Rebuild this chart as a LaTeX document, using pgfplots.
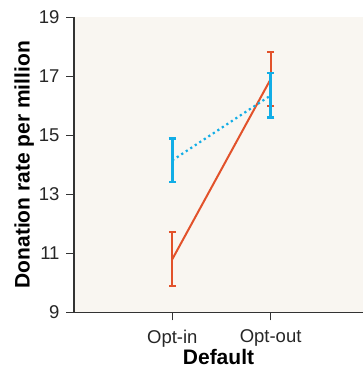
\documentclass[border=0pt]{standalone}
\usepackage{pgfplots}
\pgfplotsset{compat=1.18}
\usepackage{fontspec}
\setmainfont{Liberation Sans}
\definecolor{orng}{HTML}{E2522B}
\definecolor{blu}{HTML}{12ADE6}
\definecolor{bg}{HTML}{F9F6F1}
\definecolor{axc}{HTML}{333333}
\begin{document}
\begin{tikzpicture}
\begin{axis}[
  scale only axis,
  width=289pt, height=295pt,
  xmin=0, xmax=2.94,
  ymin=9, ymax=19,
  axis lines*=left,
  axis line style={axc, line width=1.1pt},
  axis background/.style={fill=bg},
  xtick={1,2}, xticklabels={Opt-in,Opt-out},
  ytick={9,11,13,15,17,19},
  tick align=outside,
  major tick length=8pt,
  tick style={axc, line width=1pt},
  tick label style={font=\fontsize{18.5}{21}\selectfont, text=black!85},
  xticklabel style={yshift=-6pt},
  yticklabel style={xshift=-3pt},
  /pgf/number format/assume math mode=true,
  xlabel={\textbf{Default}},
  ylabel={\textbf{Donation rate per million}},
  label style={font=\fontsize{21}{24}\selectfont},
  xlabel style={yshift=5pt},
  ylabel style={yshift=-2pt},
  clip=false,
]
\coordinate (sw) at (rel axis cs:0,0);
\coordinate (ne) at (rel axis cs:1,1);
\addplot[orng, line width=2pt, mark=none,
  error bars/.cd, y dir=both, y explicit, error mark=|,
  error bar style={line width=2pt, orng},
  error mark options={line width=2pt, mark size=3.5pt, orng}]
  coordinates {
  (1,10.80) +- (0,0.91)
  (2,16.90) +- (0,0.91)
  };
\addplot[blu, line width=2.2pt, dash pattern=on 2.2pt off 3.2pt, mark=none,
  error bars/.cd, y dir=both, y explicit, error mark=|,
  error bar style={line width=2.6pt, blu, solid},
  error mark options={line width=2.2pt, mark size=3.8pt, blu, solid}]
  coordinates {
  (1,14.15) +- (0,0.74)
  (2,16.35) +- (0,0.75)
  };
\end{axis}
\pgfresetboundingbox
\path ([shift={(-74pt,-55.7pt)}]sw) rectangle ([shift={(0pt,17.3pt)}]ne);
\end{tikzpicture}
\end{document}
